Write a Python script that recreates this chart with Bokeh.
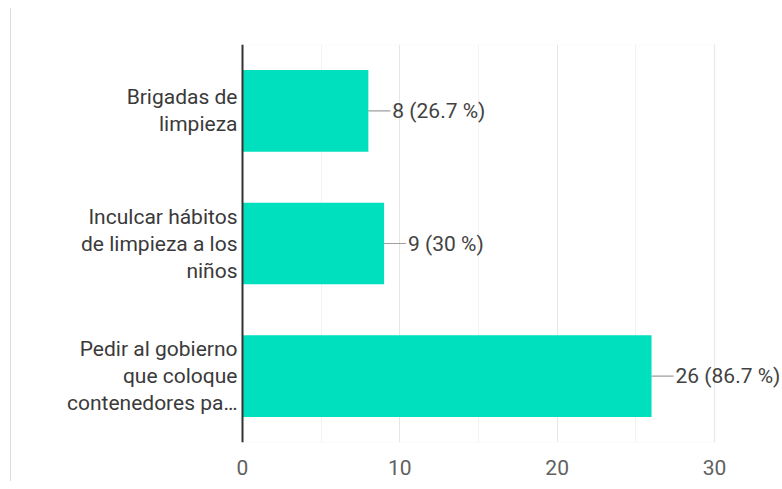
from bokeh.plotting import figure
from bokeh.models import (ColumnDataSource, LabelSet, Range1d, FixedTicker,
                          Div, Span, BoxAnnotation)
from bokeh.core.properties import value
from bokeh.layouts import row
from bokeh.embed import file_html
from bokeh.resources import INLINE

categories = ["Brigadas de\nlimpieza",
              "Inculcar hábitos\nde limpieza a los\nniños",
              "Pedir al gobierno\nque coloque\ncontenedores pa…"]
counts = [8, 9, 26]
percents = ["26.7", "30", "86.7"]
x_ticks = [0, 10, 20, 30]
x_minor = [5, 15, 25]
x_max = 30

FONT = value("Roboto")
PX = 15.733            # pixels per unit on the value axis
FRAME_W = 766
LEFT_PX = 226          # space left of the zero line inside the canvas
LEAD_PX = 22           # length of the leader line

n = len(categories)
ypos = [n - 1 - i for i in range(n)]
value_text = ["%d (%s %%)" % (c, pct) for c, pct in zip(counts, percents)]

x_start = -LEFT_PX / PX
x_end = x_start + FRAME_W / PX

p = figure(x_range=Range1d(x_start, x_end), y_range=Range1d(-0.5, n - 0.5),
           frame_width=FRAME_W, frame_height=398,
           min_border_left=0, min_border_right=0, min_border_top=44,
           min_border_bottom=40,
           output_backend="svg", toolbar_location=None)

src = ColumnDataSource(dict(y=ypos, right=counts, text=value_text,
                            lead_end=[c + LEAD_PX / PX for c in counts]))

p.add_layout(BoxAnnotation(left=0, right=x_max, fill_color=None,
                           line_color="#ebebeb", line_width=1.5,
                           level="underlay"))

p.hbar(y="y", left=0, right="right", height=0.615, source=src,
       fill_color="#00e0be", line_color=None)
p.segment(x0="right", y0="y", x1="lead_end", y1="y", source=src,
          line_color="#9e9e9e", line_width=1.2)

p.add_layout(Span(location=0, dimension="height", line_color="#333333",
                  line_width=2))

vals = LabelSet(x="lead_end", y="y", text="text", source=src, x_offset=2,
                text_font=FONT, text_font_size="21px", text_color="#424242",
                text_baseline="middle", text_align="left")
p.add_layout(vals)

# category labels, one line each
ly, lt, lo = [], [], []
for yv, cat in zip(ypos, categories):
    lines = cat.split("\n")
    m = len(lines)
    for i, line in enumerate(lines):
        ly.append(yv)
        lt.append(line)
        lo.append(-(i - (m - 1) / 2) * 27)
lsrc = ColumnDataSource(dict(x=[0] * len(lt), y=ly, text=lt, yo=lo))
cats = LabelSet(x="x", y="y", text="text", source=lsrc, x_offset=-5,
                y_offset="yo", text_font=FONT, text_font_size="21px",
                text_color="#3a3a3a", text_align="right",
                text_baseline="middle")
p.add_layout(cats)

p.xaxis.ticker = FixedTicker(ticks=x_ticks, minor_ticks=x_minor)
p.xaxis.axis_line_color = None
p.xaxis.major_tick_line_color = None
p.xaxis.minor_tick_line_color = None
p.xaxis.major_label_text_font = "Roboto"
p.xaxis.major_label_text_font_size = "21px"
p.xaxis.major_label_text_color = "#616161"
p.xaxis.major_label_standoff = 11

p.yaxis.visible = False
p.xgrid.grid_line_color = "#e6e6e6"
p.xgrid.minor_grid_line_color = "#f2f2f2"
p.ygrid.grid_line_color = None
p.outline_line_color = None

edge = Div(width=6, height=473, styles={"border-right": "1px solid #dddddd",
                                       "margin-top": "8px"})
layout = row(edge, p)

open("out.html", "w").write(file_html(layout, INLINE))
